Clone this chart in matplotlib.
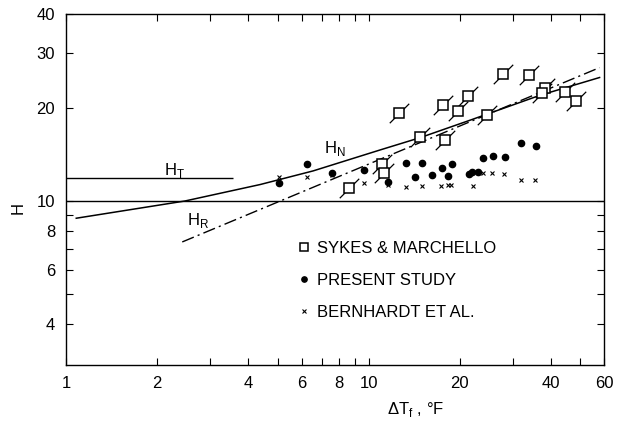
import numpy as np
import matplotlib.pyplot as plt
from matplotlib.path import Path

plt.rcParams['font.family'] = ['Liberation Sans', 'DejaVu Sans']

# --- datos ---
# Sykes & Marchello (cuadrados tachados)
sm_dT = [8.6, 11.1, 11.2, 14.8, 17.9, 12.6, 17.6, 19.7, 21.3, 24.6, 27.8, 33.9, 38.3, 37.4, 44.6, 48.4]
sm_H = [11.0, 13.2, 12.3, 16.1, 15.7, 19.2, 20.4, 19.5, 21.8, 18.9, 25.7, 25.5, 23.2, 22.3, 22.5, 21.0]

# presente estudio (puntos)
ps_dT = [5.06, 6.26, 7.57, 9.66, 11.6, 13.3, 15.0, 14.2, 16.2, 17.5, 18.9, 18.3,
         21.5, 22.0, 23.0, 23.9, 25.8, 28.2, 31.9, 35.7]
ps_H = [11.4, 13.2, 12.3, 12.6, 11.5, 13.3, 13.3, 11.95, 12.1, 12.8, 13.2, 12.0,
        12.2, 12.4, 12.4, 13.8, 14.0, 13.9, 15.4, 15.0]

# Bernhardt et al. (cruces)
be_dT = [5.06, 6.26, 7.57, 9.66, 11.6, 13.3, 15.0, 17.4, 18.3, 18.7, 22.1,
         23.9, 25.6, 28.0, 31.9, 35.5]
be_H = [11.95, 11.95, 12.1, 11.4, 11.3, 11.1, 11.2, 11.2, 11.3, 11.3, 11.2,
        12.3, 12.3, 12.2, 11.7, 11.7]

# curvas
hn_dT = [1.08, 2.47, 4.38, 6.55, 10.9, 14.8, 21.6, 36.8, 58.0]
hn_H = [8.8, 10.0, 11.3, 12.5, 14.6, 16.0, 18.2, 21.9, 25.0]
hr_dT = [2.42, 58.0]
hr_H = [7.38, 26.9]
ht_dT = [1.0, 3.56]
ht_H = 11.9

fig = plt.figure(figsize=(6.24, 4.29), dpi=100)
ax = fig.add_axes([0.106, 0.149, 0.862, 0.818])

ax.axhline(10, color='black', lw=1.0)
ax.hlines(ht_H, ht_dT[0], ht_dT[1], color='black', lw=1.0)
ax.plot(hn_dT, hn_H, '-', color='black', lw=1.1)
ax.plot(hr_dT, hr_H, color='black', lw=1.0, linestyle=(0, (9, 3, 1.5, 3)))

slash = Path([(-1, -1), (1, 1)], [Path.MOVETO, Path.LINETO])
ax.plot(sm_dT, sm_H, linestyle='none', marker=slash, markersize=14,
        color='black', mew=0.9)
ax.plot(sm_dT, sm_H, 's', markersize=7, mfc='white', mec='black', mew=1.1,
        label='SYKES & MARCHELLO')
ax.plot(ps_dT, ps_H, 'o', markersize=4.5, color='black', label='PRESENT STUDY')
ax.plot(be_dT, be_H, 'x', markersize=3.5, color='black', mew=0.8,
        label='BERNHARDT ET AL.')

# etiquetas de las curvas
ax.text(2.1, 12.1, 'H$_\\mathregular{T}$', fontsize=12)
ax.text(7.1, 14.3, 'H$_\\mathregular{N}$', fontsize=12)
ax.text(2.5, 8.35, 'H$_\\mathregular{R}$', fontsize=12)

ax.set_xscale('log')
ax.set_yscale('log')
ax.set_xlim(1, 60)
ax.set_ylim(2.96, 40)

xt = [1, 2, 3, 4, 5, 6, 7, 8, 9, 10, 20, 30, 40, 50, 60]
xl = ['1', '2', '', '4', '', '6', '', '8', '', '10', '20', '', '40', '', '60']
yt = [4, 5, 6, 7, 8, 9, 10, 20, 30, 40]
yl = ['4', '', '6', '', '8', '', '10', '20', '30', '40']
ax.set_xticks(xt)
ax.set_xticklabels(xl)
ax.set_yticks(yt)
ax.set_yticklabels(yl)
ax.minorticks_off()
ax.tick_params(direction='in', length=5, width=0.8, top=True, right=True,
               labelsize=12, pad=8)

ax.set_xlabel('ΔT$_\\mathregular{f}$ , °F', fontsize=12)
ax.xaxis.set_label_coords(0.649, -0.10)
ax.set_ylabel('H', fontsize=12)
ax.yaxis.set_label_coords(-0.075, 0.447)

for s in ax.spines.values():
    s.set_linewidth(1.0)

ax.legend(loc='upper left', bbox_to_anchor=(0.42, 0.374), frameon=False,
          fontsize=12, handlelength=0.6, handletextpad=0.5, labelspacing=1.02,
          borderaxespad=0, markerscale=0.85)

fig.savefig('out.png', dpi=100)
